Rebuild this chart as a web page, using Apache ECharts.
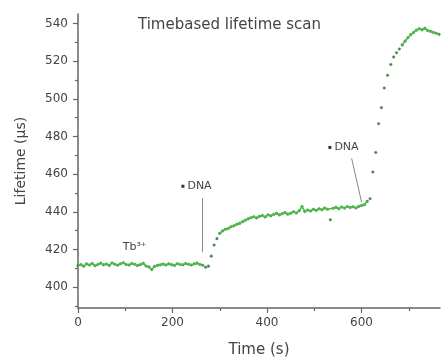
<!DOCTYPE html>
<html>
<head>
<meta charset="utf-8">
<script src="https://cdn.jsdelivr.net/npm/echarts@6/dist/echarts.min.js"></script>
<style>
  html, body { margin: 0; padding: 0; background: #fff; }
  #chart { width: 443px; height: 358px; }
</style>
</head>
<body>
<div id="chart"></div>
<script>
// Lifetime readings [time (s), lifetime (µs)]
const tbOnly = [
  [0,411.5],[6,412.0],[12,411.2],[18,412.4],[24,411.8],[30,412.6],[36,411.4],[42,412.1],
  [48,412.8],[54,411.9],[60,412.3],[66,411.6],[72,412.9],[78,412.2],[84,411.7],[90,412.5],
  [96,413.0],[102,412.1],[108,411.8],[114,412.6],[120,412.2],[126,411.5],[132,412.0],[138,412.7],
  [144,411.3],[150,410.8],[156,409.4],[162,411.1],[168,411.6],[174,411.9],[180,412.3],[186,411.8],
  [192,412.4],[198,412.0],[204,411.6],[210,412.5],[216,412.1],[222,411.9],[228,412.6],[234,412.2],
  [240,411.8],[246,412.4],[252,412.8],[258,412.1],[264,411.7]
];
const firstRise = [
  [270,410.6],[276,411.2],[282,416.5],[288,422.4],[294,425.8]
];
const firstPlateau = [
  [300,428.6],[306,429.9],[312,430.8],
  [318,431.2],[324,432.1],[330,432.6],[336,433.4],[342,433.9],[348,434.8],[354,435.6],[360,436.3],
  [366,436.9],[372,437.4],[378,436.8],[384,437.6],[390,438.1],[396,437.3],[402,438.4],[408,437.9],
  [414,438.6],[420,439.2],[426,438.4],[432,439.0],[438,439.6],[444,438.8],[450,439.3],[456,440.1],
  [462,439.4],[468,440.6],[474,442.8],[480,440.2],[486,441.0],[492,440.5],[498,441.4],[504,440.8],
  [510,441.6],[516,441.1],[522,442.0],[528,441.4],[540,441.9],[546,442.4],[552,441.7],
  [558,442.6],[564,442.0],[570,442.8],[576,442.3],[582,442.7],[588,442.1],[594,442.9],[600,443.4],
  [606,443.8],[612,445.6]
];
const strayPoints = [[534,435.8]];
const secondRise = [
  [618,447.0],[624,461.2],[630,471.5],[636,486.8],[642,495.3],[648,505.7],
  [655,512.5],[662,518.2],[668,522.2],[674,524.4],[680,526.4]
];
const secondPlateau = [
  [686,528.6],[692,530.6],[698,532.4],
  [704,534.0],[710,535.2],[716,536.4],[722,537.2],[728,536.6],[734,537.4],[740,536.2],[746,535.8],
  [752,535.2],[758,534.8],[764,534.2]
];

// Axis ticks
const xMajorTicks = [0, 200, 400, 600];
const xMinorTicks = [100, 300, 500, 700];
const yMajorTicks = [400, 420, 440, 460, 480, 500, 520, 540];
const yMinorTicks = [390, 410, 430, 450, 470, 490, 510, 530];

// Annotations: label anchors and pointer lines, in data units
const dnaLabels = [[222, 453.6], [533, 474.2]];
const dnaPointers = [
  [[262, 447.2], [262, 418.6]],
  [[579, 468.4], [600, 445.2]]
];
const ionLabel = [120, 421.5];

const FONT = 'DejaVu Sans';
const TEXT = '#444';
const AXIS = '#666';
const GREEN = '#45c045';

const xRange = { min: 0, max: 766 };
const yRange = { min: 389, max: 545 };

function xAxisDef(ticks, len, withLabels) {
  return {
    type: 'value', position: 'bottom', ...xRange,
    name: withLabels ? 'Time (s)' : '',
    nameLocation: 'middle', nameGap: 35,
    nameTextStyle: { fontFamily: FONT, fontSize: 15, color: TEXT },
    axisLine: { show: withLabels, lineStyle: { color: AXIS, width: 1.5 } },
    axisTick: { show: true, length: len, inside: false, customValues: ticks, lineStyle: { color: AXIS, width: 1.2 } },
    axisLabel: { show: withLabels, customValues: ticks, margin: 9, fontFamily: FONT, fontSize: 12, color: TEXT },
    splitLine: { show: false }
  };
}
function yAxisDef(ticks, len, withLabels) {
  return {
    type: 'value', position: 'left', ...yRange,
    name: withLabels ? 'Lifetime (µs)' : '',
    nameLocation: 'middle', nameGap: 50, nameRotate: 90,
    nameTextStyle: { fontFamily: FONT, fontSize: 14, color: TEXT },
    axisLine: { show: withLabels, lineStyle: { color: AXIS, width: 1.5 } },
    axisTick: { show: true, length: len, inside: false, customValues: ticks, lineStyle: { color: AXIS, width: 1.2 } },
    axisLabel: { show: withLabels, customValues: ticks, margin: 10, fontFamily: FONT, fontSize: 12, color: TEXT },
    splitLine: { show: false }
  };
}

// Connecting trace along the slowly varying stretches
function trace(data) {
  return {
    type: 'line', data, showSymbol: false, silent: true,
    lineStyle: { color: GREEN, width: 1.6 }
  };
}

const chart = echarts.init(document.getElementById('chart'), null, { renderer: 'canvas' });
chart.setOption({
  animation: false,
  backgroundColor: '#fff',
  title: {
    text: 'Timebased lifetime scan',
    left: 133, top: 13,
    textStyle: { fontFamily: FONT, fontSize: 15, fontWeight: 'normal', color: TEXT }
  },
  grid: { left: 78, right: 3, top: 14, bottom: 50, outerBoundsMode: 'none', containLabel: false },
  xAxis: [xAxisDef(xMajorTicks, 5, true), xAxisDef(xMinorTicks, 3, false)],
  yAxis: [yAxisDef(yMajorTicks, 5, true), yAxisDef(yMinorTicks, 3, false)],
  series: [
    trace(tbOnly),
    trace(firstPlateau),
    trace(secondPlateau),
    {
      type: 'scatter',
      data: [...tbOnly, ...firstRise, ...firstPlateau, ...strayPoints, ...secondRise, ...secondPlateau],
      symbol: 'circle',
      symbolSize: 2.6,
      itemStyle: { color: '#2f552f', borderColor: '#4aa84a', borderWidth: 0.6 },
      markLine: {
        silent: true,
        symbol: ['none', 'none'],
        label: { show: false },
        lineStyle: { color: '#888', type: 'solid', width: 1 },
        data: dnaPointers.map(([a, b]) => [{ coord: a }, { coord: b }])
      },
      markPoint: {
        silent: true,
        data: [
          ...dnaLabels.map(c => ({
            coord: c, symbol: 'rect', symbolSize: 3,
            itemStyle: { color: '#333' },
            label: { show: true, position: 'right', distance: 3, formatter: 'DNA',
                     fontFamily: FONT, fontSize: 11, color: TEXT }
          })),
          {
            coord: ionLabel, symbol: 'rect', symbolSize: 0,
            label: { show: true, position: 'inside', formatter: 'Tb³⁺',
                     fontFamily: FONT, fontSize: 11, color: TEXT }
          }
        ]
      }
    }
  ]
});
</script>
</body>
</html>
